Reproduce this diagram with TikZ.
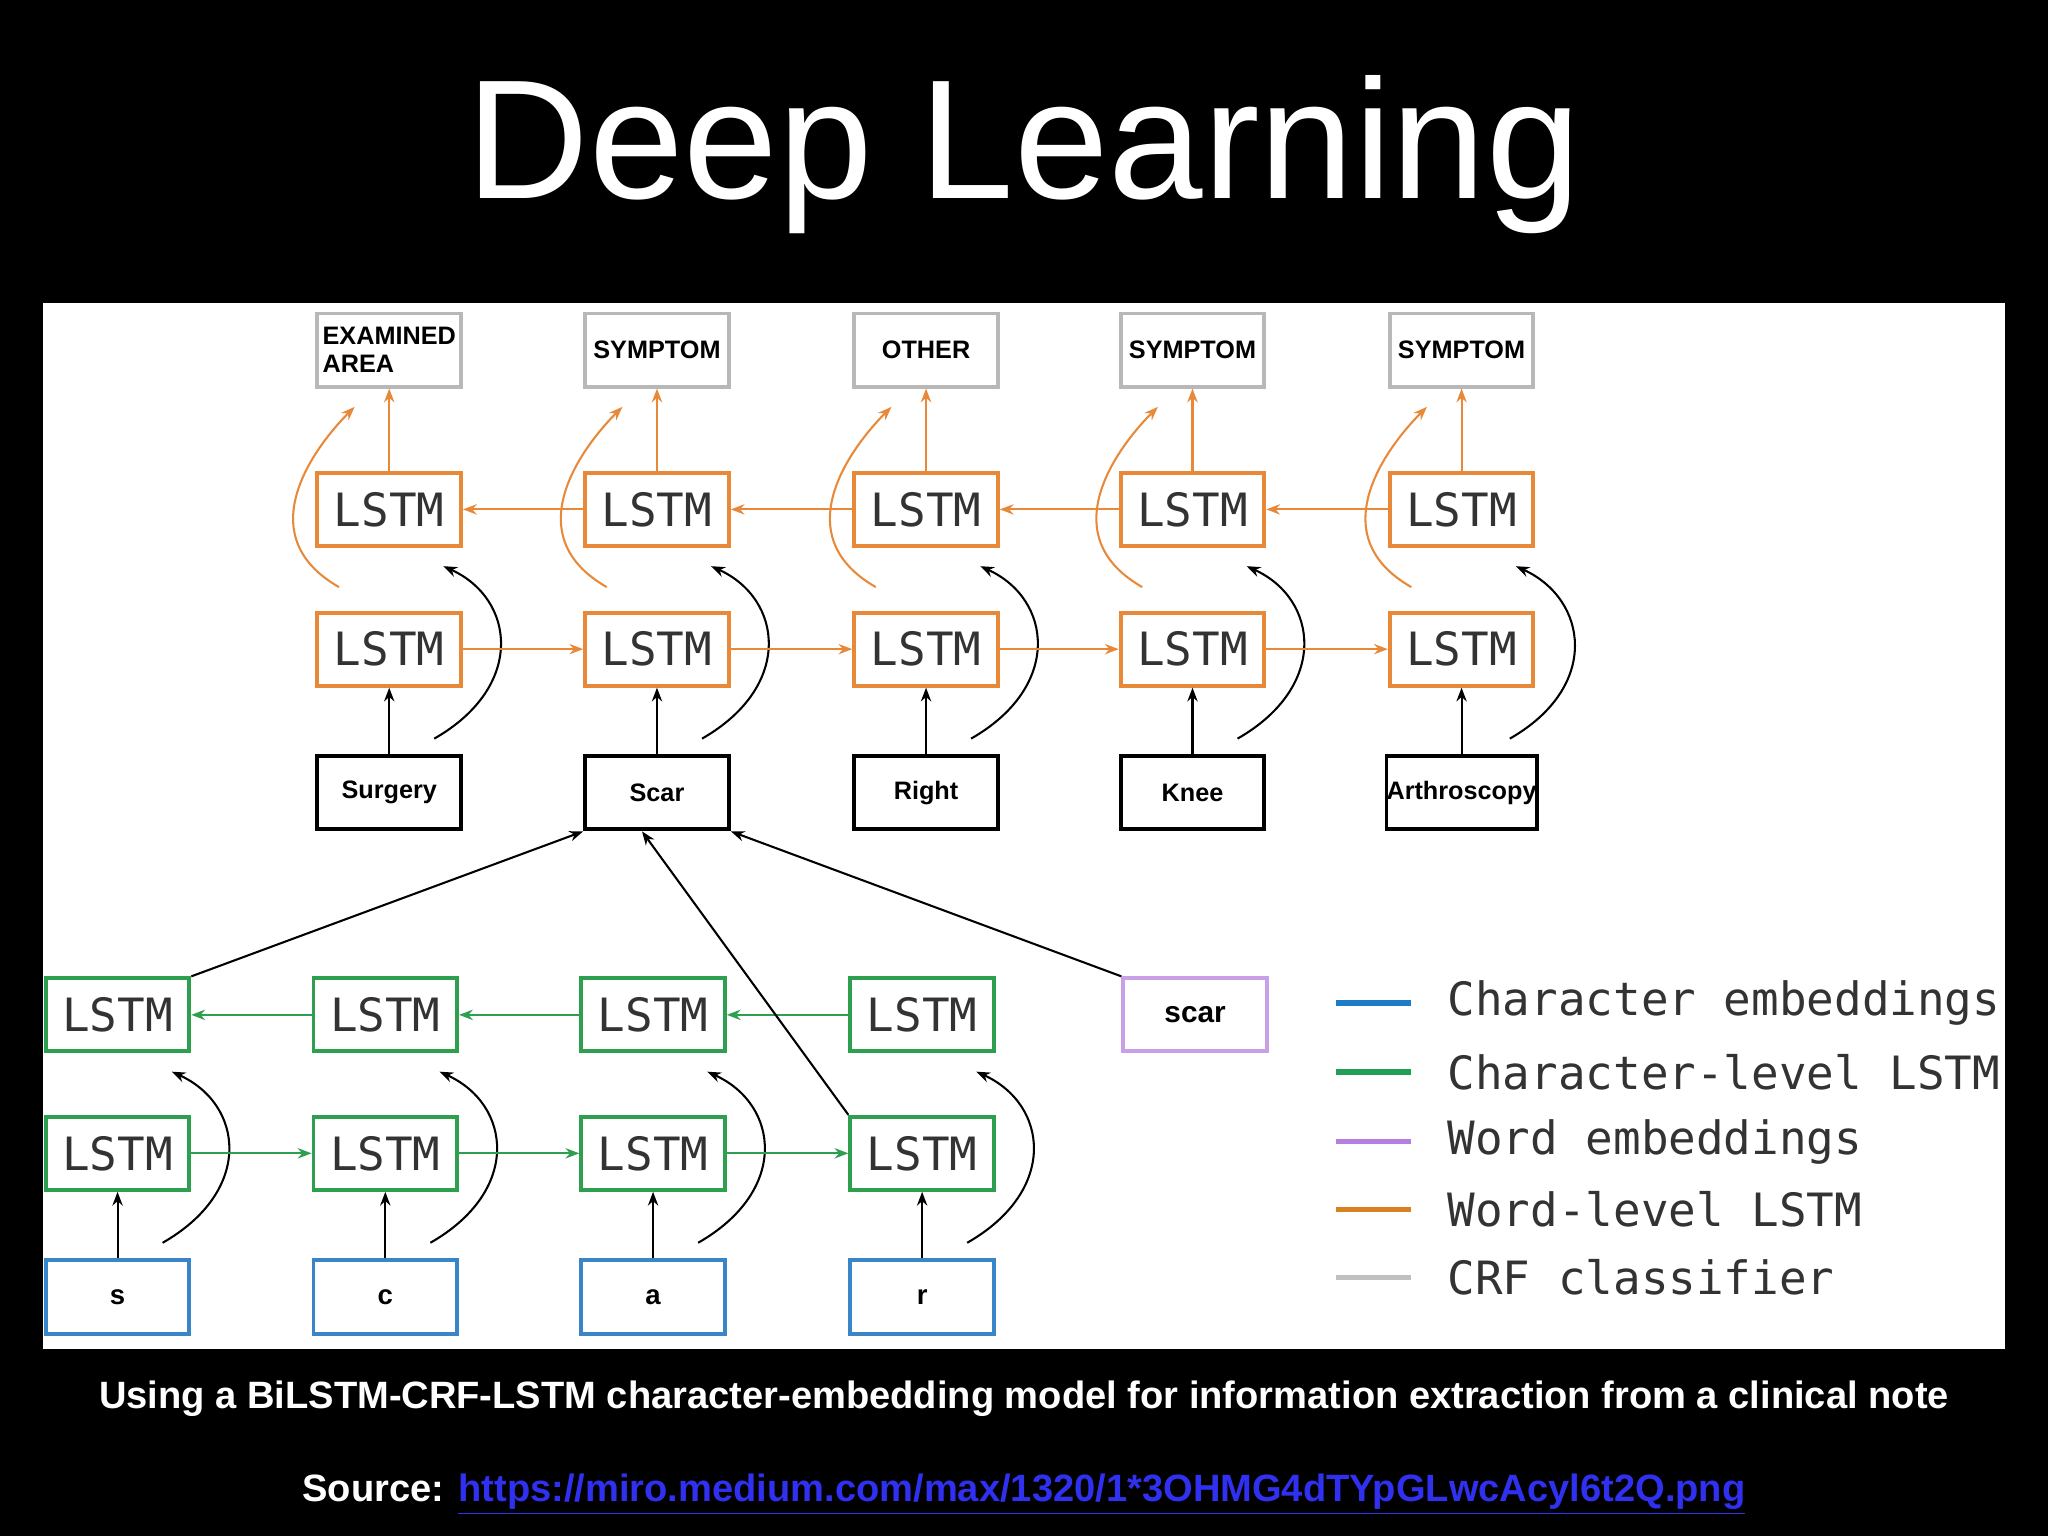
\documentclass[tikz,border=0pt]{standalone}
\usepackage{fontspec}
\setmainfont{Liberation Sans}
\newfontfamily\mono{DejaVu Sans Mono}
\usetikzlibrary{calc,arrows.meta}
\definecolor{cor}{HTML}{E8893A}\definecolor{cgr}{HTML}{2E9E4F}
\definecolor{cbl}{HTML}{3A85C8}\definecolor{cpu}{HTML}{C9A0E8}
\definecolor{cgy}{HTML}{B8B8B8}\definecolor{lnk}{HTML}{3030F0}
\begin{document}
\begin{tikzpicture}[x=0.02cm,y=-0.02cm,
 box/.style={draw,line width=1.7pt,minimum width=2.2cm,minimum height=1.12cm,inner sep=0pt,fill=white,text=black},
 lstm/.style={box,text=black!80,font=\mono\fontsize{20}{20}\selectfont},
 crf/.style={box,draw=cgy,font=\bfseries\fontsize{11}{12}\selectfont,align=left},
 wrd/.style={box,draw=black,font=\bfseries\fontsize{11}{12}\selectfont},
 arr/.style={-{Stealth[length=6pt]},line width=0.9pt},
 leg/.style={font=\mono\fontsize{20}{20}\selectfont,anchor=west,inner sep=0pt}]
\fill[black] (0,0) rectangle (1568,1176);
\fill[white] (33,232) rectangle (1535,1033);
\node[white,font=\fontsize{74}{74}\selectfont] (title) at (784,118) {Deep Learning};
% word level
\foreach \i/\c/\w/\t in {1/298/Surgery/{EXAMINED\\AREA},2/503/Scar/SYMPTOM,3/709/Right/OTHER,4/913/Knee/SYMPTOM,5/1119/Arthroscopy/SYMPTOM}{
 \node[crf] (c\i) at (\c,268) {\t};
 \node[lstm,draw=cor] (b\i) at (\c,390) {LSTM};
 \node[lstm,draw=cor] (f\i) at (\c,497) {LSTM};
 \node[wrd] (w\i) at (\c,607) {\w};
 \draw[arr] (w\i) -- (f\i);
 \draw[arr,cor] (b\i) -- (c\i);
 \draw[arr] ($(w\i.north east)+(-22,-12)$) .. controls +(70,-40) and +(55,25) .. ($(b\i.south east)+(-15,14)$);
 \draw[arr,cor] ($(b\i.south west)+(18,30)$) .. controls +(-70,-40) and +(-30,30) .. ($(c\i.south west)+(30,14)$);
}
\foreach \a/\b in {1/2,2/3,3/4,4/5}{
 \draw[arr,cor] (f\a) -- (f\b);
 \draw[arr,cor] (b\b) -- (b\a);
}
% char level
\foreach \i/\c/\t in {1/90/s,2/295/c,3/500/a,4/706/r}{
 \node[lstm,draw=cgr] (cb\i) at (\c,777) {LSTM};
 \node[lstm,draw=cgr] (cf\i) at (\c,883) {LSTM};
 \node[box,draw=cbl,font=\bfseries\fontsize{12}{12}\selectfont] (ch\i) at (\c,993) {\t};
 \draw[arr] (ch\i) -- (cf\i);
 \draw[arr] ($(ch\i.north east)+(-22,-12)$) .. controls +(70,-40) and +(55,25) .. ($(cb\i.south east)+(-15,14)$);
}
\foreach \a/\b in {1/2,2/3,3/4}{
 \draw[arr,cgr] (cf\a) -- (cf\b);
 \draw[arr,cgr] (cb\b) -- (cb\a);
}
\node[box,draw=cpu,font=\bfseries\fontsize{13}{13}\selectfont] (sc) at (915,777) {scar};
\draw[arr] (cb1.north east) -- (w2.south west);
\draw[arr] (cf4.north west) -- ($(w2.south west)+(45,0)$);
\draw[arr] (sc.north west) -- (w2.south east);
% legend
\foreach \y/\col/\t [count=\k] in {768/1C7CC4/Character embeddings,821/1FA055/Character-level LSTM,874/B37FE0/Word embeddings,926/D98020/Word-level LSTM,978/C0C0C0/CRF classifier}{
 \definecolor{lc}{HTML}{\col}
 \coordinate (l\k) at (1023,\y);
 \draw[lc,line width=2.5pt] (l\k) -- ++(57,0);
 \node[leg,text=black!80] (lt\k) at (1108,\y) {\t};
}
\fill[black] (1535,232) rectangle (1568,1033);
\node[white,font=\bfseries\fontsize{16.6}{17}\selectfont] (cap) at (784,1071) {Using a BiLSTM-CRF-LSTM character-embedding model for information extraction from a clinical note};
\node[white,font=\bfseries\fontsize{16.6}{17}\selectfont] (src) at (784,1144) {Source: \textcolor{lnk}{\underline{https://miro.medium.com/max/1320/1*3OHMG4dTYpGLwcAcyl6t2Q.png}}};
\end{tikzpicture}
\end{document}
